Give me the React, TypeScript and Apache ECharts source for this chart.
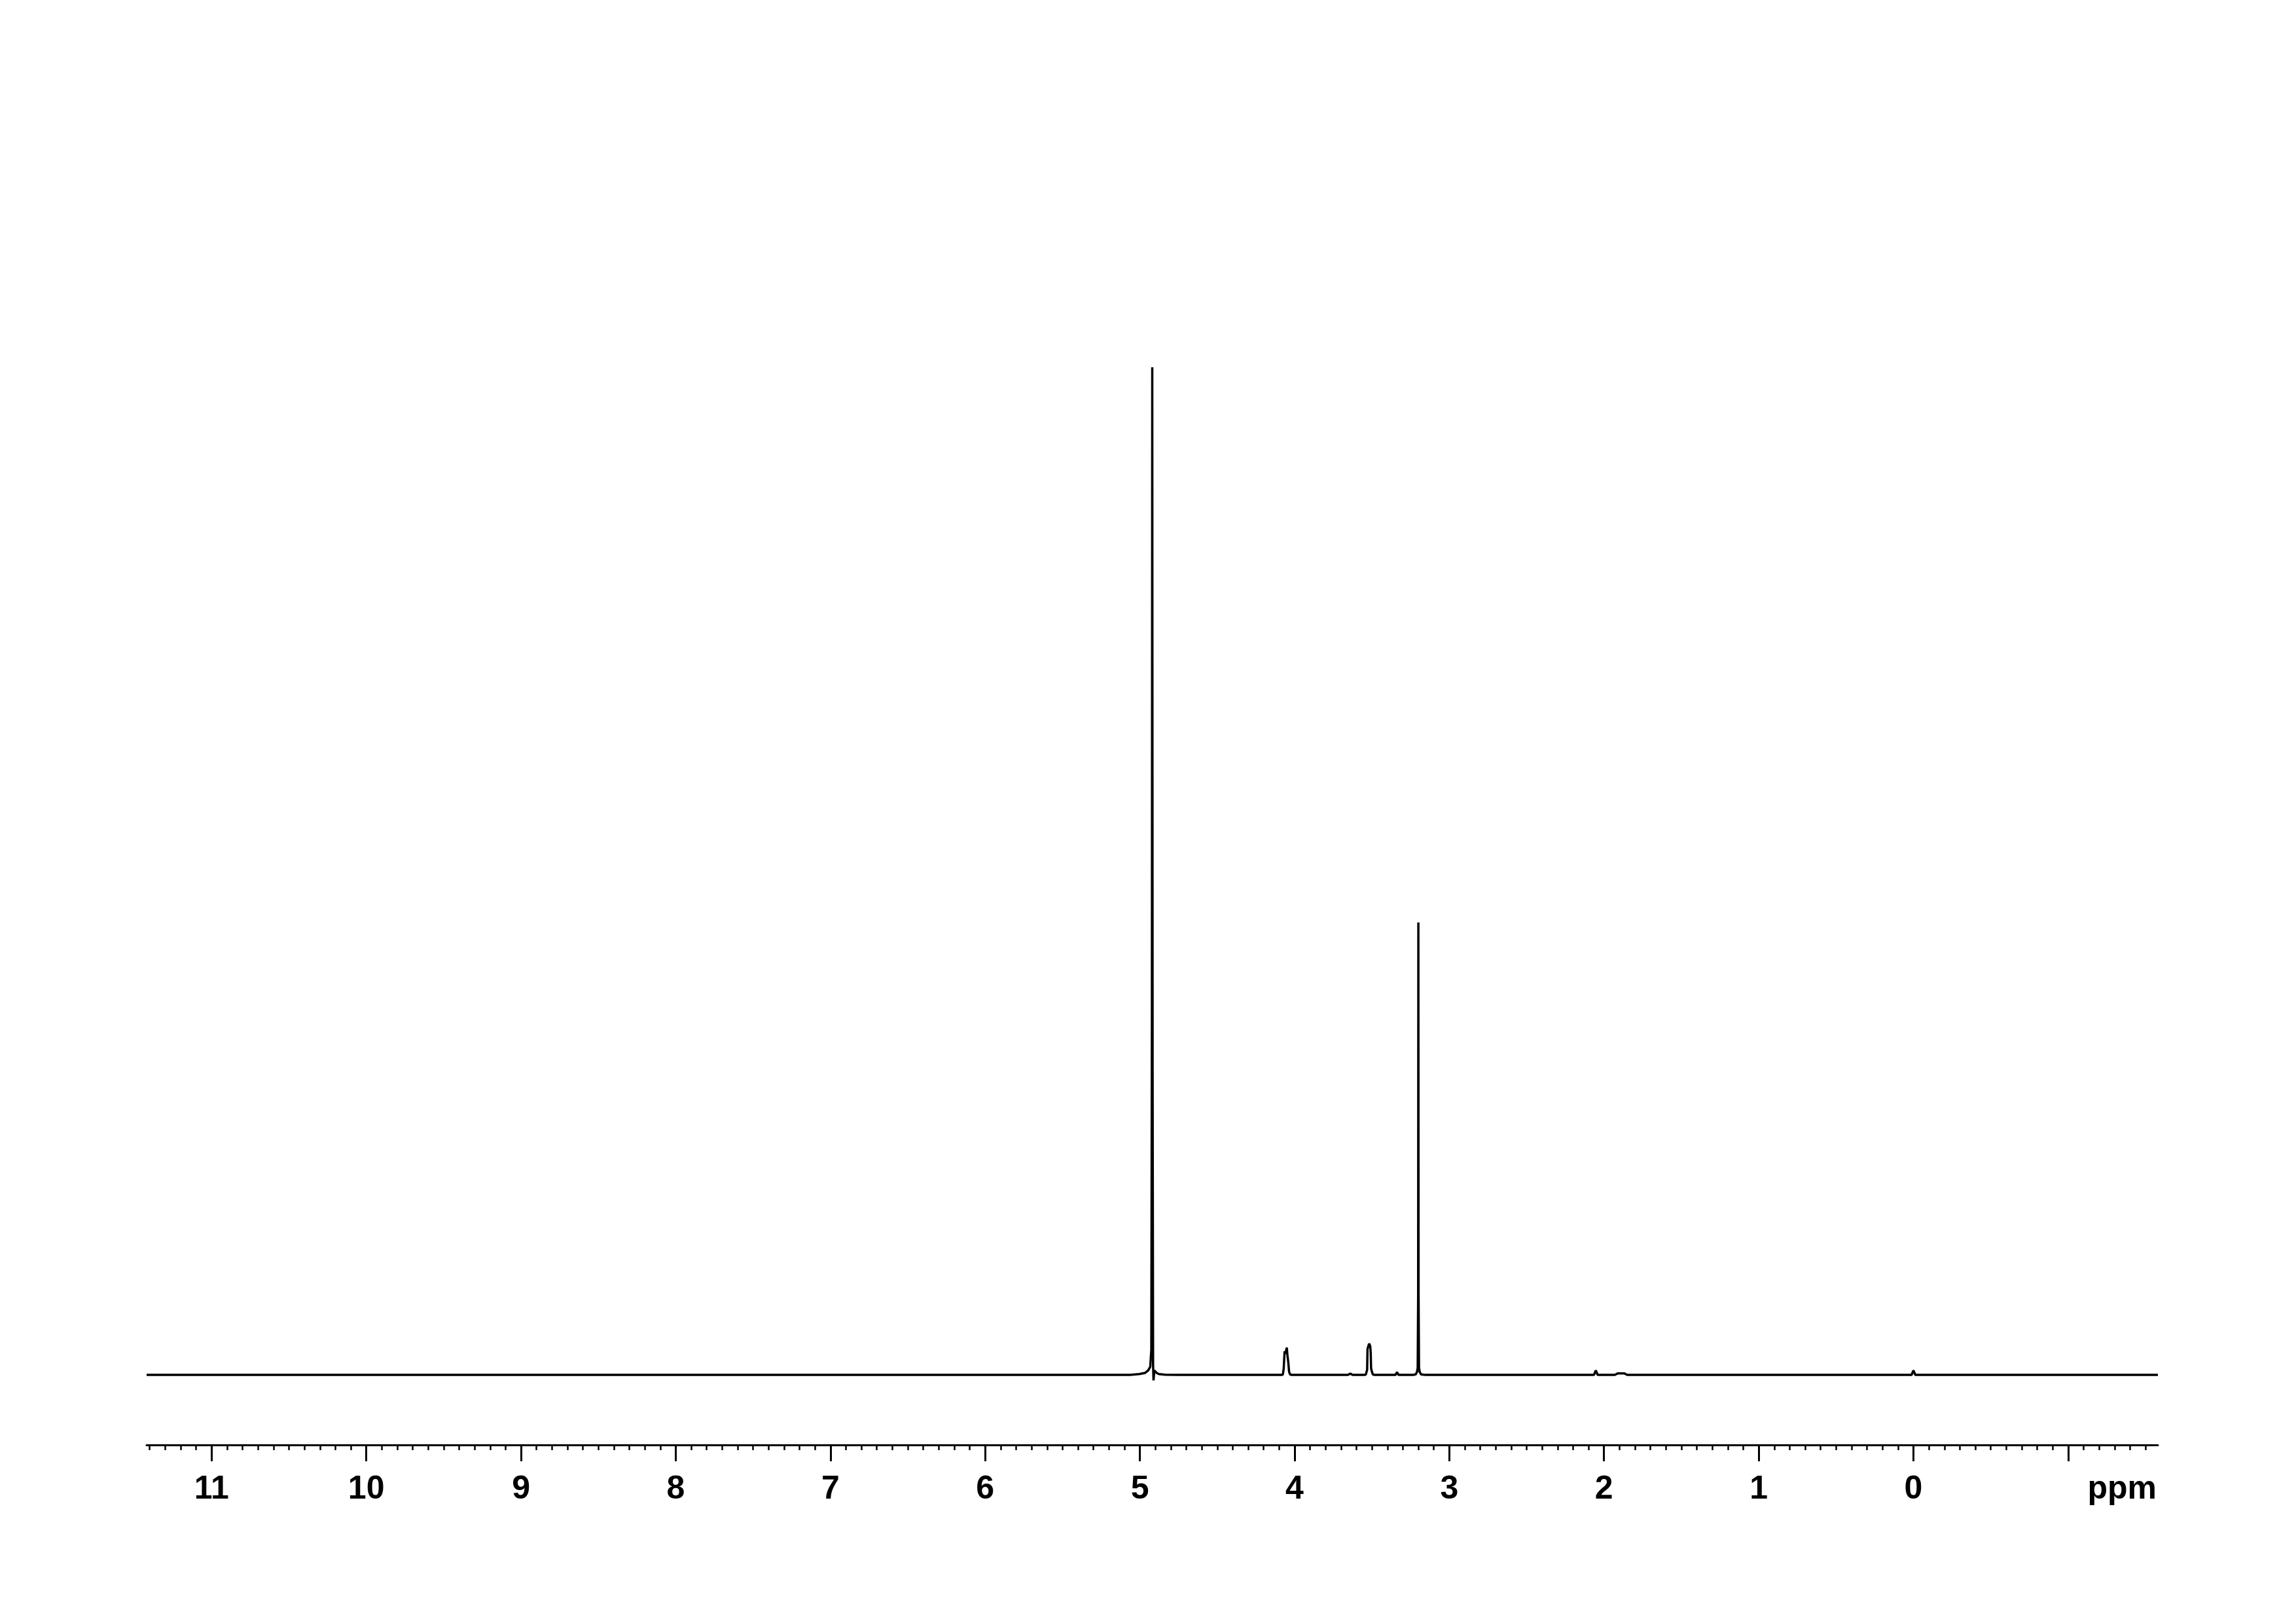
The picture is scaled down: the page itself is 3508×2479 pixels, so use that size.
import React, { useEffect, useRef } from "react";
import * as echarts from "echarts";

// Axis range (ppm, drawn right-to-left)
const ppmMin = -1.58;
const ppmMax = 11.42;
const labelValues = [0, 1, 2, 3, 4, 5, 6, 7, 8, 9, 10, 11];
const majorTickValues = [-1, 0, 1, 2, 3, 4, 5, 6, 7, 8, 9, 10, 11];
const axisUnit = "ppm";

// Spectrum (relative intensity, tallest peak = 100)
const baselinePpm = [11.42, 8.5, 6.0, 2.6, 1.0, -1.58];
const baselineInt = [0, 0, 0, 0, 0, 0];

const peak492Ppm = [5.064, 5.004, 4.966, 4.946, 4.933, 4.926, 4.9223, 4.92, 4.9177, 4.9146, 4.9118, 4.9065, 4.8988, 4.8904, 4.8777, 4.8354, 4.751];
const peak492Int = [0, 0.08, 0.2, 0.45, 0.8, 2.5, 35, 100, 30, 1.0, -0.55, 0.45, 0.3, 0.18, 0.08, 0.02, 0];

const peak405Ppm = [4.084, 4.0758, 4.0705, 4.0645, 4.0595, 4.0504, 4.0465, 4.0405, 4.0355, 4.029, 4.02];
const peak405Int = [0, 0.03, 0.6, 2.34, 2.1, 2.7, 2.0, 1.2, 0.3, 0.05, 0];

const peak364Ppm = [3.655, 3.64, 3.625];
const peak364Int = [0, 0.12, 0];

const peak352Ppm = [3.548, 3.5398, 3.531, 3.5288, 3.5225, 3.518, 3.511, 3.508, 3.5055, 3.5, 3.494, 3.485];
const peak352Int = [0, 0.03, 0.5, 2.55, 2.9, 3.1, 2.85, 2.2, 0.65, 0.3, 0.04, 0];

const peak334Ppm = [3.348, 3.338, 3.328];
const peak334Int = [0, 0.26, 0];

const peak320Ppm = [3.234, 3.217, 3.2085, 3.2042, 3.2014, 3.2, 3.1986, 3.1958, 3.1915, 3.183, 3.166, 3.15];
const peak320Int = [0, 0.05, 0.3, 0.72, 8, 44.9, 8, 0.72, 0.3, 0.05, 0.01, 0];

const peak205Ppm = [2.065, 2.053, 2.041];
const peak205Int = [0, 0.45, 0];

const peak190Ppm = [1.93, 1.91, 1.87, 1.85];
const peak190Int = [0, 0.15, 0.15, 0];

const peak000Ppm = [0.012, 0.0, -0.012];
const peak000Int = [0, 0.45, 0];

function buildSpectrum(): [number, number][] {
  const groups: [number[], number[]][] = [
    [baselinePpm, baselineInt],
    [peak492Ppm, peak492Int],
    [peak405Ppm, peak405Int],
    [peak364Ppm, peak364Int],
    [peak352Ppm, peak352Int],
    [peak334Ppm, peak334Int],
    [peak320Ppm, peak320Int],
    [peak205Ppm, peak205Int],
    [peak190Ppm, peak190Int],
    [peak000Ppm, peak000Int],
  ];
  const pts: [number, number][] = [];
  groups.forEach(([p, v]) => p.forEach((x, i) => pts.push([x, v[i]])));
  pts.sort((a, b) => b[0] - a[0]);
  return pts;
}

const FONT = "'Liberation Sans', Arial, Helvetica, sans-serif";

export default function App() {
  const ref = useRef<HTMLDivElement>(null);
  useEffect(() => {
    if (!ref.current) return;
    const chart = echarts.init(ref.current, undefined, { renderer: "svg" });
    const gridTop = 561;
    const zeroY = 2100;
    const yMinVal = -5;
    const yMaxVal = 100;
    const pxPerUnit = (zeroY - gridTop) / yMaxVal;
    const gridBottomY = zeroY - yMinVal * pxPerUnit;
    const axisY = 2207;
    chart.setOption({
      animation: false,
      backgroundColor: "#ffffff",
      grid: {
        left: 224,
        right: 211,
        top: gridTop,
        bottom: 2479 - gridBottomY,
        containLabel: false,
      },
      xAxis: {
        type: "value",
        inverse: true,
        min: ppmMin,
        max: ppmMax,
        splitNumber: 13,
        minInterval: 1,
        maxInterval: 1,
        position: "bottom",
        offset: axisY - gridBottomY,
        splitLine: { show: false },
        axisLine: { show: true, onZero: false, lineStyle: { color: "#000", width: 3 } },
        axisTick: {
          show: true,
          customValues: majorTickValues,
          length: 25,
          lineStyle: { color: "#000", width: 3 },
        },
        minorTick: {
          show: true,
          splitNumber: 10,
          length: 8,
          lineStyle: { color: "#000", width: 2.5 },
        },
        axisLabel: {
          show: true,
          customValues: labelValues,
          margin: 40,
          color: "#000",
          fontSize: 50,
          fontWeight: "bold",
          fontFamily: FONT,
          formatter: (v: number) => String(Math.round(v)),
        },
      },
      yAxis: {
        type: "value",
        show: false,
        min: yMinVal,
        max: yMaxVal,
        splitLine: { show: false },
      },
      graphic: [
        {
          type: "text",
          right: 3508 - 3295,
          top: axisY + 40,
          style: {
            text: axisUnit,
            fill: "#000",
            font: `bold 50px ${FONT}`,
          },
        },
      ],
      series: [
        {
          type: "line",
          data: buildSpectrum(),
          showSymbol: false,
          symbol: "none",
          clip: false,
          silent: true,
          lineStyle: { color: "#000", width: 3.5 },
        },
      ],
    });
    return () => chart.dispose();
  }, []);
  return (
    <div
      ref={ref}
      style={{ position: "fixed", left: 0, top: 0, width: 3508, height: 2479, background: "#fff" }}
    />
  );
}
